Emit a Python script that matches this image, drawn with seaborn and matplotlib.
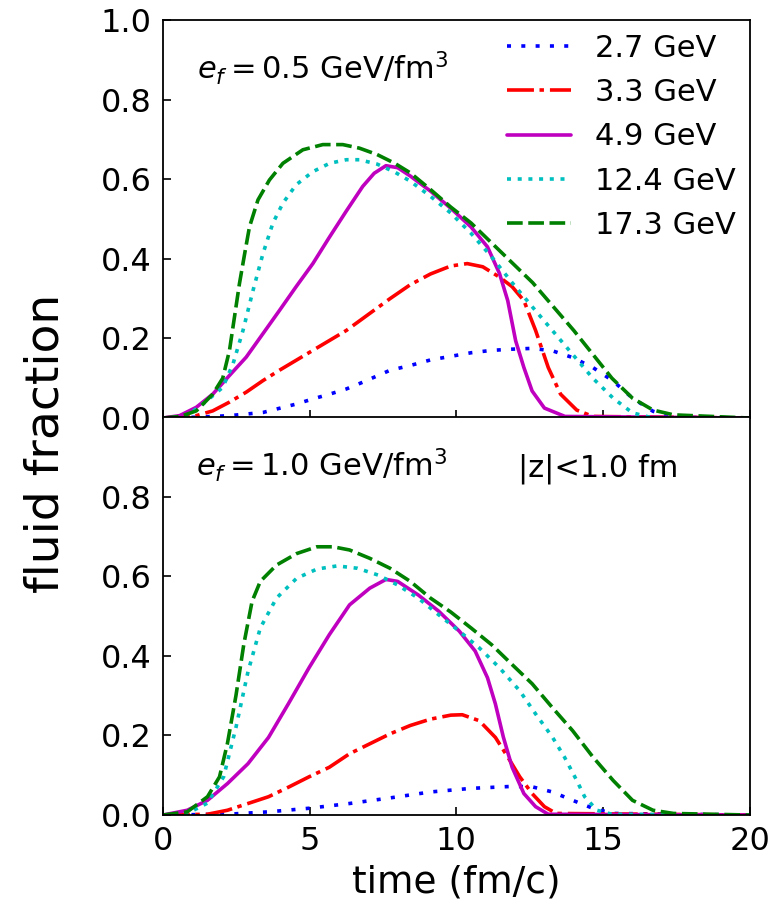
import numpy as np
import pandas as pd
import matplotlib
matplotlib.use("Agg")
import matplotlib.pyplot as plt
import seaborn as sns

sns.set_style("white")
plt.rcParams['font.family'] = ['DejaVu Sans']
plt.rcParams['mathtext.fontset'] = 'dejavusans'
plt.rcParams['lines.scale_dashes'] = False
for k in ['text.color', 'axes.labelcolor', 'xtick.color', 'ytick.color', 'axes.edgecolor']:
    plt.rcParams[k] = 'black'

labels = ["2.7 GeV", "3.3 GeV", "4.9 GeV", "12.4 GeV", "17.3 GeV"]
colors = ["#0000ff", "#ff0000", "#bf00bf", "#00bfbf", "#008000"]

# ---- top panel (e_f = 0.5 GeV/fm^3) ----
t27_x = [0, 1.14, 2.27, 3.41, 4.54, 5.11, 5.68, 6.25, 6.81, 7.74, 8.43, 9.12, 9.81, 10.5, 11.2, 11.9, 12.58, 13.27, 13.96, 14.65, 15.34, 16.0, 16.7, 17.4, 20]
t27_y = [0, 0.002, 0.006, 0.014, 0.035, 0.048, 0.06, 0.073, 0.09, 0.12, 0.132, 0.146, 0.155, 0.164, 0.17, 0.173, 0.175, 0.169, 0.152, 0.127, 0.093, 0.05, 0.017, 0.002, 0]

t33_x = [0, 1.14, 1.7, 2.27, 2.84, 3.41, 3.97, 4.54, 5.11, 5.68, 6.25, 6.81, 7.74, 8.43, 9.12, 9.81, 10.37, 10.9, 11.47, 11.9, 12.3, 12.7, 13.13, 13.55, 14.1, 14.65, 20]
t33_y = [0, 0.006, 0.018, 0.04, 0.065, 0.094, 0.12, 0.145, 0.17, 0.195, 0.22, 0.25, 0.30, 0.335, 0.362, 0.382, 0.388, 0.38, 0.354, 0.33, 0.295, 0.22, 0.127, 0.06, 0.02, 0.004, 0]

t49_x = [0, 0.57, 1.14, 1.7, 2.27, 2.84, 3.41, 3.97, 4.54, 5.11, 5.68, 6.25, 6.81, 7.2, 7.6, 8.0, 8.43, 9.12, 9.81, 10.5, 11.06, 11.47, 11.75, 12.02, 12.3, 12.58, 13.0, 13.7, 20]
t49_y = [0, 0.006, 0.027, 0.06, 0.107, 0.153, 0.212, 0.27, 0.33, 0.388, 0.455, 0.52, 0.582, 0.615, 0.634, 0.629, 0.608, 0.57, 0.527, 0.48, 0.43, 0.363, 0.295, 0.194, 0.127, 0.068, 0.025, 0.004, 0]

t124_x = [0, 0.8, 1.36, 2.04, 2.39, 2.73, 3.07, 3.41, 3.75, 4.09, 4.54, 5.11, 5.68, 6.25, 6.7, 7.3, 7.9, 8.43, 9.12, 9.81, 10.5, 11.2, 11.9, 12.58, 13.27, 13.96, 14.65, 15.34, 16.0, 16.7, 20]
t124_y = [0, 0.005, 0.035, 0.077, 0.136, 0.22, 0.32, 0.413, 0.49, 0.54, 0.586, 0.619, 0.64, 0.649, 0.649, 0.638, 0.618, 0.595, 0.557, 0.515, 0.464, 0.405, 0.34, 0.28, 0.22, 0.16, 0.10, 0.05, 0.013, 0, 0]

t173_x = [0, 0.6, 1.14, 1.7, 2.04, 2.27, 2.44, 2.61, 2.78, 2.95, 3.24, 3.63, 4.09, 4.77, 5.45, 6.13, 6.7, 7.3, 7.9, 8.43, 9.12, 9.81, 10.5, 11.2, 11.9, 12.6, 13.3, 14.0, 14.65, 15.3, 16.0, 16.7, 17.4, 20]
t173_y = [0, 0.004, 0.018, 0.06, 0.10, 0.17, 0.254, 0.338, 0.41, 0.48, 0.548, 0.598, 0.64, 0.674, 0.687, 0.687, 0.678, 0.662, 0.64, 0.616, 0.574, 0.53, 0.49, 0.44, 0.39, 0.34, 0.28, 0.22, 0.16, 0.10, 0.05, 0.02, 0.008, 0]

# ---- bottom panel (e_f = 1.0 GeV/fm^3) ----
b27_x = [0, 2.2, 3.6, 4.98, 6.36, 7.74, 9.12, 10.5, 11.9, 12.58, 13.27, 13.96, 14.65, 15.34, 20]
b27_y = [0, 0.002, 0.008, 0.017, 0.029, 0.043, 0.058, 0.067, 0.072, 0.071, 0.058, 0.037, 0.017, 0.004, 0]

b33_x = [0, 1.52, 2.2, 2.9, 3.6, 4.28, 4.98, 5.67, 6.36, 7.05, 7.74, 8.43, 9.12, 9.81, 10.2, 10.78, 11.33, 11.75, 12.16, 12.58, 13.0, 13.4, 20]
b33_y = [0, 0.002, 0.012, 0.029, 0.046, 0.07, 0.096, 0.12, 0.154, 0.179, 0.204, 0.225, 0.241, 0.251, 0.252, 0.237, 0.195, 0.146, 0.096, 0.054, 0.021, 0.004, 0]

b49_x = [0, 0.83, 1.52, 2.2, 2.9, 3.6, 4.28, 4.98, 5.67, 6.36, 7.05, 7.6, 8.0, 8.7, 9.4, 10.1, 10.64, 11.06, 11.33, 11.6, 11.9, 12.3, 12.7, 13.13, 20]
b49_y = [0, 0.012, 0.037, 0.079, 0.129, 0.195, 0.28, 0.37, 0.453, 0.528, 0.57, 0.592, 0.587, 0.553, 0.512, 0.462, 0.412, 0.345, 0.279, 0.196, 0.12, 0.054, 0.021, 0.002, 0]

b124_x = [0, 0.83, 1.52, 2.07, 2.49, 2.9, 3.32, 3.87, 4.56, 5.25, 5.94, 6.63, 7.33, 8.0, 8.7, 9.4, 10.1, 10.78, 11.47, 12.16, 12.7, 13.27, 13.68, 14.1, 14.37, 14.79, 15.3, 20]
b124_y = [0, 0.004, 0.03, 0.096, 0.22, 0.36, 0.47, 0.545, 0.595, 0.618, 0.626, 0.62, 0.603, 0.578, 0.545, 0.503, 0.462, 0.42, 0.37, 0.312, 0.254, 0.196, 0.146, 0.087, 0.046, 0.012, 0.002, 0]

b173_x = [0, 0.83, 1.52, 1.93, 2.2, 2.49, 2.76, 3.04, 3.32, 3.87, 4.56, 5.25, 5.8, 6.36, 7.05, 7.74, 8.43, 9.12, 9.81, 10.5, 11.2, 11.9, 12.58, 13.27, 13.96, 14.65, 15.34, 16.0, 16.7, 17.4, 20]
b173_y = [0, 0.008, 0.046, 0.096, 0.18, 0.30, 0.43, 0.537, 0.587, 0.628, 0.657, 0.674, 0.674, 0.666, 0.645, 0.62, 0.587, 0.545, 0.51, 0.47, 0.428, 0.378, 0.33, 0.27, 0.212, 0.146, 0.087, 0.037, 0.012, 0.004, 0]

top_x = [t27_x, t33_x, t49_x, t124_x, t173_x]
top_y = [t27_y, t33_y, t49_y, t124_y, t173_y]
bot_x = [b27_x, b33_x, b49_x, b124_x, b173_x]
bot_y = [b27_y, b33_y, b49_y, b124_y, b173_y]

styles = [
    (0, (2.9, 7.4)),
    (0, (19.4, 4.0, 3.2, 4.3)),
    "-",
    (0, (2.9, 4.8)),
    (0, (11.3, 4.0)),
]

xticks = [0, 5, 10, 15, 20]
yticks = [0.0, 0.2, 0.4, 0.6, 0.8, 1.0]

fig = plt.figure(figsize=(7.83, 9.06), dpi=100)
ax1 = fig.add_axes([0.208, 0.5386, 0.7497, 0.4393])
ax2 = fig.add_axes([0.208, 0.1004, 0.7497, 0.4393], sharex=ax1)

LW = 2.6
for ax, xs, ys in [(ax1, top_x, top_y), (ax2, bot_x, bot_y)]:
    for lab, col, ls, x, y in zip(labels, colors, styles, xs, ys):
        df = pd.DataFrame({"t": x, "f": y})
        sns.lineplot(data=df, x="t", y="f", ax=ax, color=col, linestyle=ls,
                     linewidth=LW, label=lab, legend=False)
    ax.set_xlim(0, 20)
    ax.set_ylim(0, 1.0)
    ax.set_yticks(yticks)
    ax.set_xticks(xticks)
    ax.set_ylabel("")
    ax.set_xlabel("")
    ax.tick_params(direction="in", length=6, width=1.2, labelsize=23, pad=8,
                   top=False, right=False, left=True, bottom=True)
    for sp in ax.spines.values():
        sp.set_linewidth(1.3)
        sp.set_color("black")
    if ax.get_legend() is not None:
        ax.get_legend().remove()

ax1.tick_params(labelbottom=False)
ax2.set_yticks(yticks[:-1])
ax2.set_ylim(0, 1.0)

ax1.legend(loc="upper right", frameon=False, fontsize=22, borderaxespad=0.15,
           borderpad=0.3, handlelength=2.1, handletextpad=0.8, labelspacing=0.5)

ax1.text(1.15, 0.852, r"$e_f = 0.5$ GeV/fm$^3$", fontsize=22, va="baseline")
ax2.text(1.12, 0.85, r"$e_f = 1.0$ GeV/fm$^3$", fontsize=22, va="baseline")
ax2.text(12.1, 0.85, r"|z|<1.0 fm", fontsize=22, va="baseline")

ax2.set_xlabel("time (fm/c)", fontsize=27, labelpad=5)
fig.text(46 / 783, 1 - 443 / 906, "fluid fraction", rotation=90, fontsize=34,
         va="center", ha="center")

fig.savefig("out.png", dpi=100)
